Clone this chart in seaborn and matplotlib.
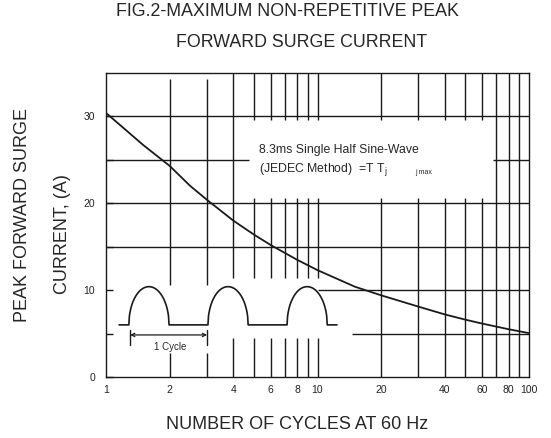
import numpy as np
import matplotlib
matplotlib.use('Agg')
import matplotlib.pyplot as plt
import matplotlib.transforms as mtransforms
from matplotlib.ticker import NullLocator
import seaborn as sns

# surge current curve
cycles = [1, 1.5, 2, 2.5, 3, 4, 5, 6, 8, 10, 15, 20, 30, 40, 50, 60, 80, 100]
current = [30.4, 26.7, 24.3, 22.0, 20.4, 18.0, 16.4, 15.2, 13.5, 12.3, 10.4, 9.4,
           8.1, 7.2, 6.6, 6.15, 5.5, 5.05]
x_ticks = [1, 2, 4, 6, 8, 10, 20, 40, 60, 80, 100]
y_ticks = [0, 10, 20, 30]
y_minor = [5, 15, 25]

sns.set_theme(style='white')
plt.rcParams['font.family'] = ['Liberation Sans', 'DejaVu Sans']

fig = plt.figure(figsize=(5.51, 4.38), dpi=100)
ax = fig.add_axes([0.1924, 0.1393, 0.7677, 0.6941])
ax.set_xscale('log')
ax.set_xlim(1, 100)
ax.set_ylim(0, 35)

# grid drawn by hand, broken where the note box and the waveform sit
top_cut = [(29.6, 35), (11.4, 20.6), (0, 4.5)]
vgrid = {2: [(10.6, 34.3), (0, 2.8)],
         3: [(10.6, 34.3), (0, 2.8)],
         4: [(11.4, 35), (0, 4.5)]}
for v in [5, 6, 7, 8, 9, 10]:
    vgrid[v] = top_cut
for v in [20, 30, 40, 50, 60]:
    vgrid[v] = [(29.6, 35), (0, 20.6)]
for v in [70, 80, 90]:
    vgrid[v] = [(0, 35)]
hgrid = {30: [(1, 100)], 25: [(1, 4.75), (67.6, 100)], 20: [(1, 100)],
         15: [(1, 100)], 10: [(10, 100)], 5: [(14.6, 100)]}

for xv, segs in vgrid.items():
    for y0, y1 in segs:
        ax.plot([xv, xv], [y0, y1], color='k', lw=1.0, solid_capstyle='butt')
for yv, segs in hgrid.items():
    for x0, x1 in segs:
        ax.plot([x0, x1], [yv, yv], color='k', lw=1.0, solid_capstyle='butt')

sns.lineplot(x=cycles, y=current, ax=ax, color='k', lw=1.3)

# half sine-wave sketch (x in axes fraction, y in amps)
trans = mtransforms.blended_transform_factory(ax.transAxes, ax.transData)
base, peak = 6.0, 10.4
hump_starts = [0.054, 0.241, 0.428]
hump_w = 0.095
t = np.linspace(0, 1, 80)
wx = [0.031]
wy = [base]
for s in hump_starts:
    wx += list(s + hump_w * t)
    wy += list(base + (peak - base) * np.sqrt(np.clip(1 - (2 * t - 1) ** 2, 0, 1)))
wx.append(0.546)
wy.append(base)
ax.plot(wx, wy, color='k', lw=1.2, transform=trans)

ax.annotate('', xy=(0.057, 4.84), xytext=(0.239, 4.84), xycoords=trans, textcoords=trans,
            arrowprops=dict(arrowstyle='<->', lw=0.9, color='k', shrinkA=0, shrinkB=0,
                            mutation_scale=6))
for bx in [0.057, 0.239]:
    ax.plot([bx, bx], [3.7, 5.4], color='k', lw=1.0, transform=trans)
ax.text(0.151, 3.4, '1 Cycle', transform=trans, ha='center', va='center', fontsize=7)

ax.text(5.29, 26.1, '8.3ms Single Half Sine-Wave', fontsize=8.8, ha='left', va='center')
ax.text(5.29, 23.9, r'(JEDEC Method)  =T T$_{\mathregular{j}}$', fontsize=8.8, ha='left', va='center')
ax.text(28.9, 23.5, 'j max', fontsize=5, ha='left', va='center')

ax.set_xticks(x_ticks)
ax.set_xticklabels([str(v) for v in x_ticks])
ax.xaxis.set_minor_locator(NullLocator())
ax.tick_params(axis='x', which='both', length=0, pad=6, labelsize=7.5, labelcolor='#222222')
ax.set_yticks(y_ticks)
ax.set_yticks(y_minor, minor=True)
ax.tick_params(axis='y', which='both', direction='in', length=5, width=1.0, left=True,
               color='k', pad=8, labelsize=7.5, labelcolor='#222222')
ax.grid(False)
for sp in ax.spines.values():
    sp.set_visible(True)
    sp.set_color('k')
    sp.set_linewidth(1.0)

fig.text(0.521, 0.973, 'FIG.2-MAXIMUM NON-REPETITIVE PEAK', ha='center', va='center', fontsize=12.8)
fig.text(0.548, 0.904, 'FORWARD SURGE CURRENT', ha='center', va='center', fontsize=12.8)
fig.text(0.539, 0.030, 'NUMBER OF CYCLES AT 60 Hz', ha='center', va='center', fontsize=13)
fig.text(0.040, 0.509, 'PEAK FORWARD SURGE', rotation=90, ha='center', va='center', fontsize=13)
fig.text(0.114, 0.466, 'CURRENT, (A)', rotation=90, ha='center', va='center', fontsize=13)

fig.savefig('out.png', dpi=100)
